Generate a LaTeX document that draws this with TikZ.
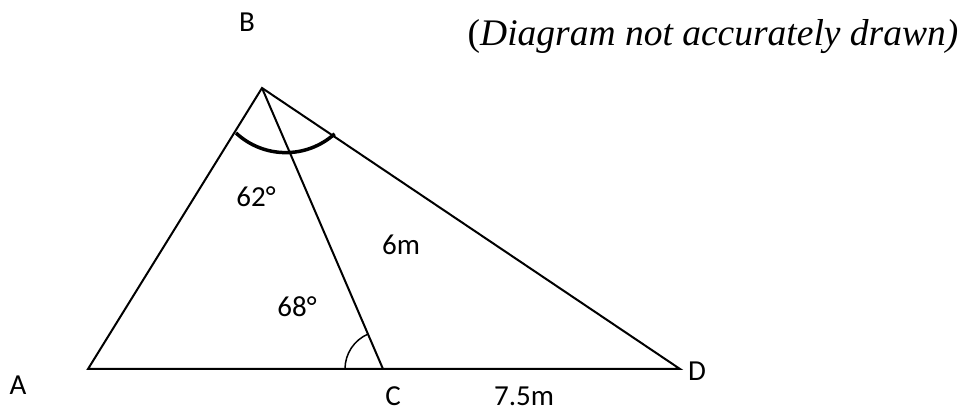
\documentclass[tikz,border=0pt]{standalone}
\usepackage{fontspec}
\setmainfont{Carlito}
\newfontfamily\notefont{Liberation Serif}
\usepackage{tikz}
\usetikzlibrary{calc}

\begin{document}
\begin{tikzpicture}[
    x=1pt, y=1pt,
    edge/.style={draw=black, line width=2pt},
    lbl/.style={font=\fontsize{29}{34}\selectfont, inner sep=0pt},
    note/.style={font=\notefont\fontsize{37.5}{42}\selectfont, inner sep=0pt},
]
    \useasboundingbox (0,0) rectangle (963,411);
    % Vertices
    \coordinate (A) at (88,42);
    \coordinate (B) at (262,323);
    \coordinate (C) at (383,42);
    \coordinate (D) at (680,42);
    % Triangle sides
    \draw[edge] (A) -- (B) -- (D) -- cycle;
    \draw[edge] (B) -- (C);
    % Angle marks
    \draw[line width=3.5pt] (236,278) arc[start angle=227, end angle=312, radius=73];
    \draw[line width=1.5pt] ($(C)+(-38,0)$) arc[start angle=180, end angle=113, radius=38];
    % Vertex labels
    \node[lbl] (labA) at (18,26) {A};
    \node[lbl] (labB) at (247,389) {B};
    \node[lbl] (labC) at (393,15) {C};
    \node[lbl] (labD) at (697,40) {D};
    % Angles and lengths
    \node[lbl] (ang62) at (256,214) {62°};
    \node[lbl] (ang68) at (297,104) {68°};
    \node[lbl] (len6) at (401,166) {6m};
    \node[lbl] (len75) at (524,15) {7.5m};
    % Note
    \node[note] (caption) at (713,374) {(\textit{Diagram not accurately drawn)}};
\end{tikzpicture}
\end{document}
